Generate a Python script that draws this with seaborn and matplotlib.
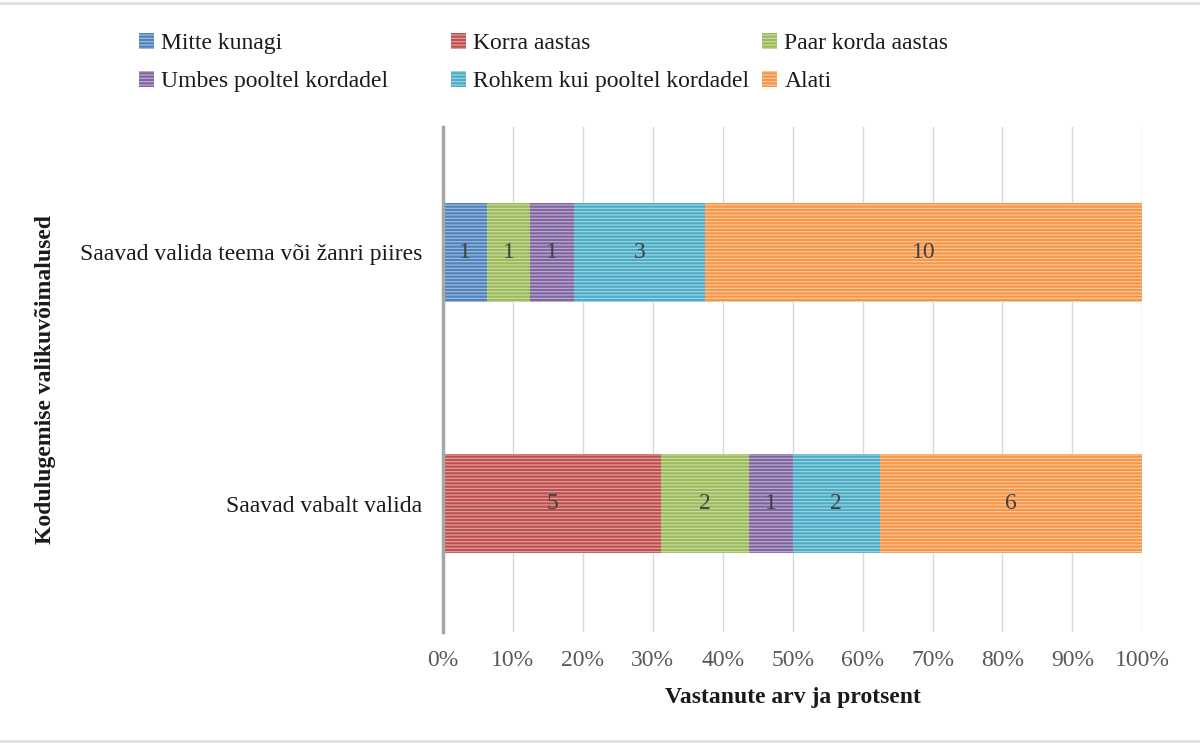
import matplotlib
matplotlib.use("Agg")
import matplotlib.pyplot as plt
from matplotlib.patches import Patch
from matplotlib.colors import to_rgb
import seaborn as sns
import pandas as pd
import numpy as np

valikud = ["Saavad valida teema või žanri piires", "Saavad vabalt valida"]
vastused = ["Mitte kunagi", "Korra aastas", "Paar korda aastas",
            "Umbes pooltel kordadel", "Rohkem kui pooltel kordadel", "Alati"]
teema_piires = [1, 0, 1, 1, 3, 10]
vabalt = [0, 5, 2, 1, 2, 6]
varvid = ["#4F81BD", "#C0504D", "#9BBB59", "#8064A2", "#4BACC6", "#F79646"]


def heledam(c, k=0.5):
    r, g, b = to_rgb(c)
    return (r + (1 - r) * k, g + (1 - g) * k, b + (1 - b) * k)


sns.set_theme(style="white")
plt.rcParams["font.family"] = ["Liberation Serif", "DejaVu Serif"]
plt.rcParams["hatch.linewidth"] = 0.8
triibud = "-----"

# pikk tabel kumulatiivsete protsentidega
read = []
for valik, arvud in zip(valikud, [teema_piires, vabalt]):
    kokku = sum(arvud)
    kum = np.cumsum(arvud) / kokku * 100
    algus = 0
    for vastus, arv, k in zip(vastused, arvud, kum):
        read.append({"valik": valik, "vastus": vastus, "arv": arv,
                     "kum": k, "keskel": (algus + k) / 2})
        algus = k
df = pd.DataFrame(read)

fig = plt.figure(figsize=(12, 7.45), dpi=100)
ax = fig.add_axes([0.369, 0.152, 0.583, 0.678])

# kuhjatud tulbad: joonistan tagant ettepoole
for vastus, varv in reversed(list(zip(vastused, varvid))):
    osa = df[df["vastus"] == vastus]
    sns.barplot(data=osa, x="kum", y="valik", order=valikud, orient="h",
                color=varv, saturation=1, width=0.395, ax=ax,
                hatch=triibud, edgecolor=heledam(varv), linewidth=0)

for _, r in df.iterrows():
    if r["arv"] > 0:
        ax.text(r["keskel"], valikud.index(r["valik"]), str(int(r["arv"])),
                ha="center", va="center", fontsize=17, color="#404040")

ax.set_xlim(0, 100)
ax.set_ylim(1.51, -0.5)
ax.set_xticks(range(0, 101, 10))
ax.set_xticklabels([f"{t}%" for t in range(0, 101, 10)], fontsize=17, color="#595959")
ax.tick_params(axis="y", labelsize=17, labelcolor="#1a1a1a", length=0, pad=15)
ax.tick_params(axis="x", length=0, pad=13)
ax.xaxis.grid(True, color="#D9D9D9", linewidth=1)
ax.set_axisbelow(True)
for s in ["top", "right", "bottom"]:
    ax.spines[s].set_visible(False)
ax.spines["left"].set_color("#A6A6A6")
ax.spines["left"].set_linewidth(2.5)
ax.set_zorder(1)

ax.set_xlabel("Vastanute arv ja protsent", fontsize=17, fontweight="bold",
              color="#1a1a1a", labelpad=12)
ax.set_ylabel("")
fig.text(0.038, 0.49, "Kodulugemise valikuvõimalused", rotation=90,
         ha="center", va="center", fontsize=17, fontweight="bold", color="#1a1a1a")

# legend kolmes veerus
kaepidemed = [Patch(facecolor=v, edgecolor=heledam(v), hatch=triibud, linewidth=0)
              for v in varvid]
for i, x0 in enumerate([0.108, 0.368, 0.627]):
    leg = fig.legend([kaepidemed[i], kaepidemed[i + 3]], [vastused[i], vastused[i + 3]],
                     loc="upper left", bbox_to_anchor=(x0, 0.968), frameon=False,
                     fontsize=17, handlelength=0.65, handleheight=0.65,
                     handletextpad=0.3, labelspacing=0.7, borderaxespad=0)
    for t in leg.get_texts():
        t.set_color("#1a1a1a")

# hall raam ümber pildi
fig.add_artist(plt.Line2D([0, 1], [0.996, 0.996], color="#E0E0E0", linewidth=2))
fig.add_artist(plt.Line2D([0, 1], [0.006, 0.006], color="#E0E0E0", linewidth=2))

fig.savefig("out.png", dpi=100, facecolor="white")
